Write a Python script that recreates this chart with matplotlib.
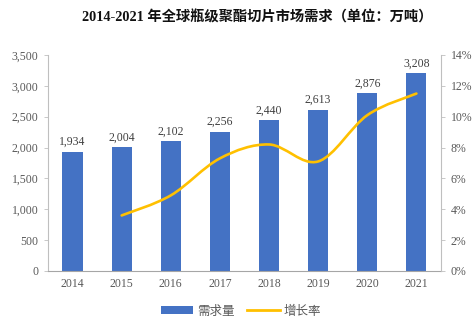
import matplotlib.pyplot as plt
from matplotlib.path import Path
from matplotlib.patches import PathPatch
from matplotlib.lines import Line2D
from matplotlib.patches import Patch
from matplotlib.ticker import FuncFormatter, MultipleLocator

plt.rcParams['font.family'] = ['Liberation Serif', 'Noto Sans CJK SC']

years = ['2014', '2015', '2016', '2017', '2018', '2019', '2020', '2021']
demand = [1934, 2004, 2102, 2256, 2440, 2613, 2876, 3208]
growth_years = [1, 2, 3, 4, 5, 6, 7]  # index positions 2015-2021
growth = [3.6, 4.9, 7.3, 8.2, 7.1, 10.1, 11.5]

blue = '#4472C4'
yellow = '#FFC000'
grey = '#595959'
axis_grey = '#BFBFBF'

fig = plt.figure(figsize=(4.77, 3.25), dpi=100)
ax = fig.add_axes([0.1006, 0.1662, 0.8239, 0.6646])
ax2 = ax.twinx()

x = list(range(len(years)))
ax.bar(x, demand, width=0.41, color=blue, zorder=2)
for xi, v in zip(x, demand):
    ax.text(xi, v + 60, f'{v:,}', ha='center', va='bottom', fontsize=8.5, color='#404040')

ax.set_xlim(-0.5, 7.5)
ax.set_ylim(0, 3500)
ax.yaxis.set_major_locator(MultipleLocator(500))
ax.yaxis.set_major_formatter(FuncFormatter(lambda v, p: f'{int(v):,}'))
ax.set_xticks(x)
ax.set_xticklabels(years)

ax2.set_ylim(0, 14)
ax2.yaxis.set_major_locator(MultipleLocator(2))
ax2.yaxis.set_major_formatter(FuncFormatter(lambda v, p: f'{int(v)}%'))

# smoothed growth line (Excel style bezier)
pts = list(zip(growth_years, growth))
verts = [pts[0]]
codes = [Path.MOVETO]
n = len(pts)
for i in range(n - 1):
    p0 = pts[i - 1] if i > 0 else pts[i]
    p1 = pts[i]
    p2 = pts[i + 1]
    p3 = pts[i + 2] if i + 2 < n else pts[i + 1]
    c1 = (p1[0] + (p2[0] - p0[0]) / 6, p1[1] + (p2[1] - p0[1]) / 6)
    c2 = (p2[0] - (p3[0] - p1[0]) / 6, p2[1] - (p3[1] - p1[1]) / 6)
    verts += [c1, c2, p2]
    codes += [Path.CURVE4] * 3
ax2.add_patch(PathPatch(Path(verts, codes), facecolor='none', edgecolor=yellow,
                        lw=1.9, capstyle='round', zorder=3))

for a in (ax, ax2):
    a.spines['top'].set_visible(False)
    a.tick_params(colors=grey, labelsize=8.5, length=3, width=0.6)
    a.tick_params(axis='y', color=axis_grey)
ax.spines['right'].set_visible(False)
ax2.spines['left'].set_visible(False)
ax2.spines['bottom'].set_visible(False)
ax.spines['left'].set_color(axis_grey)
ax2.spines['right'].set_color(axis_grey)
ax.spines['bottom'].set_color('#A6A6A6')
ax.tick_params(axis='x', length=0, pad=5)
ax.tick_params(axis='y', pad=4)
ax2.tick_params(axis='y', pad=4)

fig.text(0.54, 0.947, '2014-2021 年全球瓶级聚酯切片市场需求（单位：万吨）',
         ha='center', va='center', fontsize=10.3, fontweight='bold', color='#111111')

handles = [Patch(facecolor=blue, edgecolor='none'),
           Line2D([0], [0], color=yellow, lw=2)]
leg = fig.legend(handles, ['需求量', '增长率'], loc='center', bbox_to_anchor=(0.505, 0.043),
                 ncol=2, frameon=False, handlelength=2.6, handleheight=0.55,
                 columnspacing=1.0, handletextpad=0.3,
                 prop={'family': ['Noto Sans CJK SC'], 'size': 9})
for t in leg.get_texts():
    t.set_color(grey)

fig.savefig('out.png', dpi=100)
